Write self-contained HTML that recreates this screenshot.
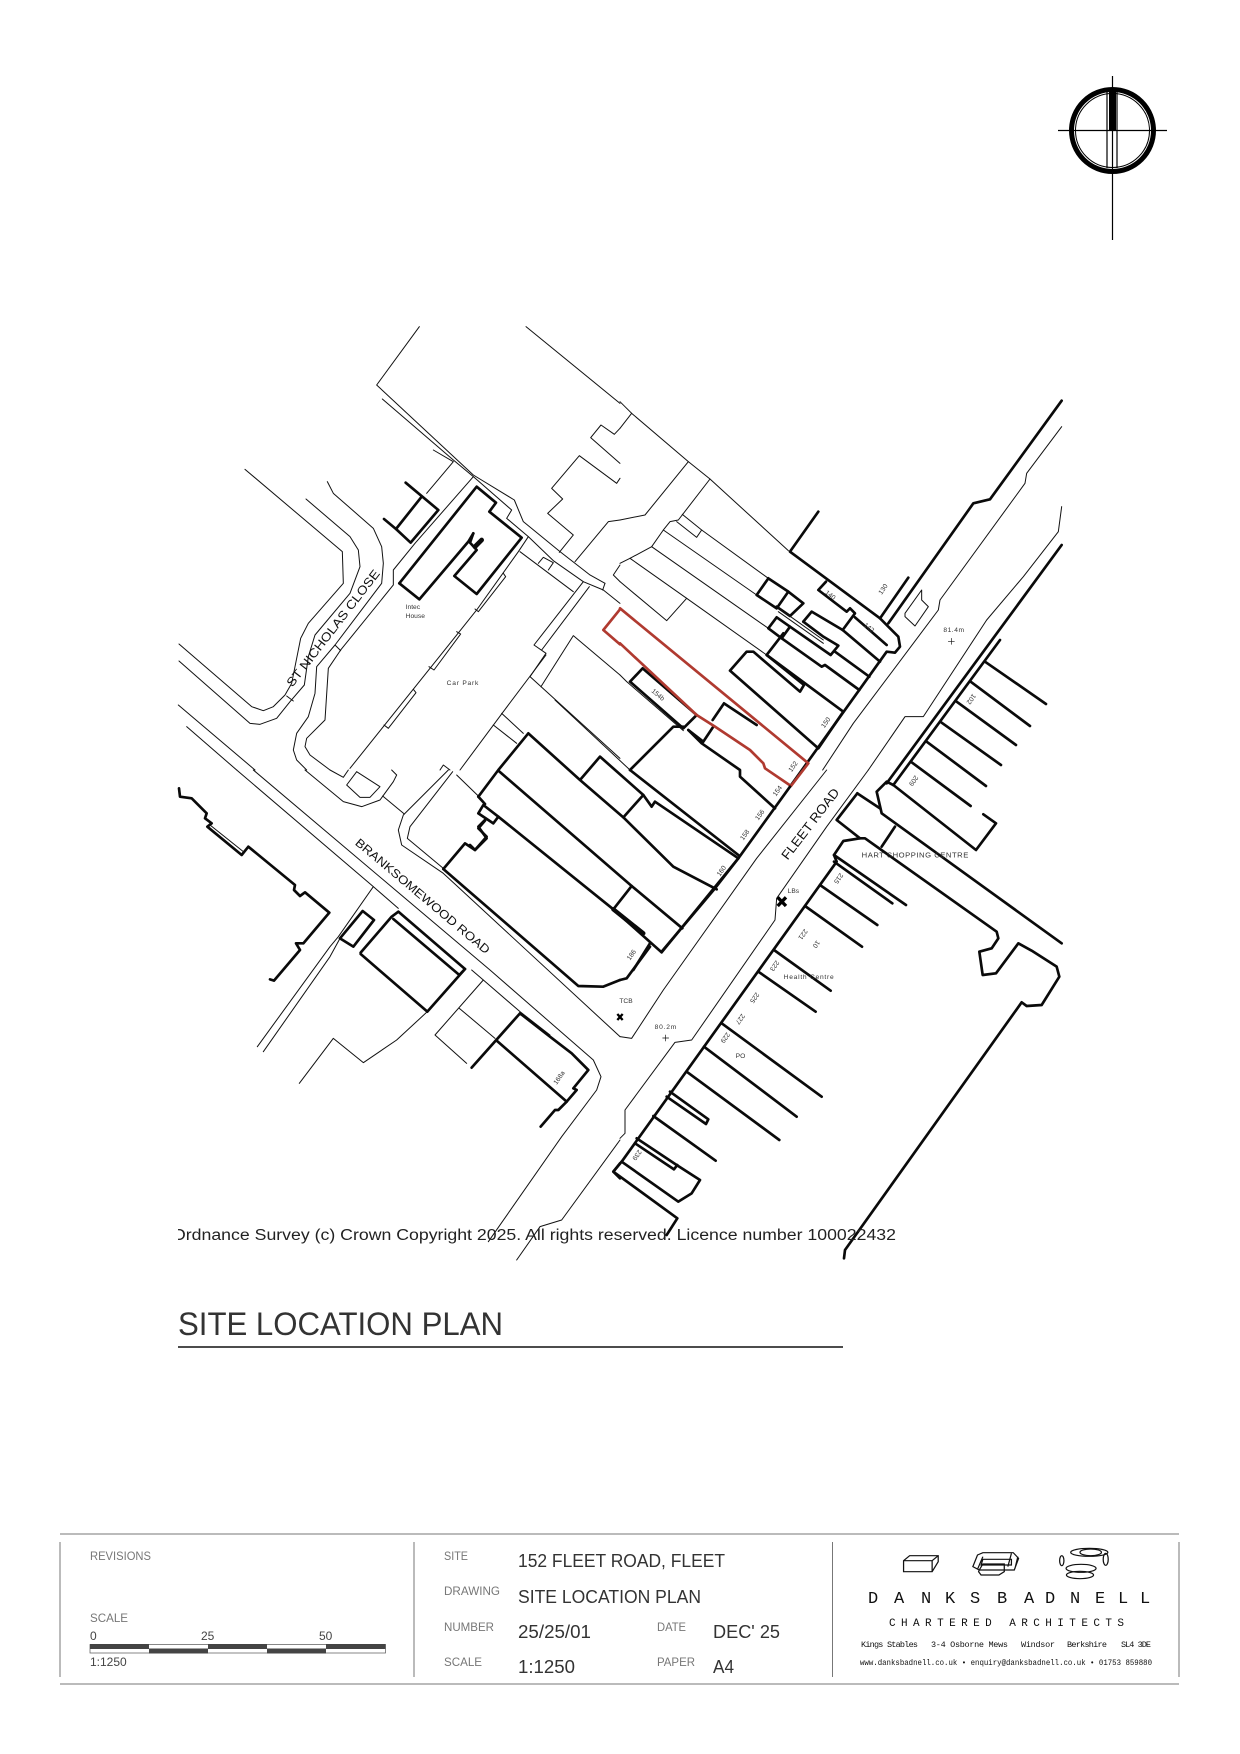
<!DOCTYPE html>
<html><head><meta charset="utf-8"><title>Site Location Plan</title>
<style>
html,body{margin:0;padding:0;background:#fff;width:1240px;height:1754px;overflow:hidden}
svg{display:block}
text{font-family:"Liberation Sans",sans-serif}
.t,.k,.r{fill:none;stroke-linejoin:round;stroke-linecap:round}
.t{stroke:#111;stroke-width:3}
.k{stroke:#0a0a0a;stroke-width:8}
.r{stroke:#b03a30;stroke-width:8}
.s{font-size:20px;fill:#333}
.l{font-size:12px;fill:#777}
.v{font-size:18px;fill:#333}
.m{font-family:"Liberation Mono",monospace}
</style></head><body>
<svg width="1240" height="1754" viewBox="0 0 1240 1754" xmlns="http://www.w3.org/2000/svg">
<rect width="1240" height="1754" fill="#fff"/>

<!-- North point -->
<g fill="none" stroke="#000">
<circle cx="1112.5" cy="130.5" r="41" stroke-width="5"/>
<circle cx="1112.5" cy="130.5" r="37" stroke-width="1"/>
<path d="M1112.5 76V240M1058 130.5H1167M1107 90V168M1117 90V168" stroke-width="1.2"/>
<rect x="1109" y="90" width="7" height="40" fill="#000" stroke="none"/>
</g>

<!-- Crop A -->
<g transform="translate(170,320) scale(.33333)">
<polyline class="t" points="748,20 620,195 910,465 1033,540 1060,605 1170,695 1260,765 1305,790"/>
<polyline class="t" points="637,237 850,420 910,470 1025,570 1010,595 1075,650 1150,722 1240,785 1300,810 1350,850"/>
<polyline class="t" points="1068,20 1350,250"/>
<polyline class="t" points="1350,325 1333,343 1293,315 1262,353 1350,430"/>
<polyline class="t" points="1350,475 1340,490 1228,407 1145,505 1178,537 1133,580 1210,645 1168,697"/>
<polyline class="t" points="1215,725 1315,605 1350,600"/>
<polyline class="t" points="1350,735 1330,765 1350,785"/>
<polyline class="t" points="1305,790 1298,810"/>
<polyline class="t" points="225,448 517,695 520,790 415,910 392,955 365,1090 345,1125 310,1160 280,1172 245,1160 27,972"/>
<polyline class="t" points="27,1023 240,1210 270,1213 320,1195 360,1145 403,1095 415,1010 435,945 540,820 570,740 565,690 540,650 408,537"/>
<polyline class="t" points="350,1128 370,1143"/>
<polyline class="t" points="472,485 490,520 610,625 635,680 640,730 635,790 495,975 440,1040 435,1120 415,1190 380,1240 370,1290 380,1320 410,1350"/>
<polyline class="t" points="495,975 512,992"/>
<polyline class="t" points="910,470 735,670 670,750 670,795 512,990 475,1045 465,1200 410,1255 405,1280 420,1305 480,1350"/>
<polyline class="t" points="790,390 850,425 770,520"/>
<polyline class="k" points="707,488 805,570 722,668 678,627 642,597"/>
<polyline class="k" points="678,627 755,530"/>
<polyline class="k" points="688,790 920,500 978,548 958,575 1055,653 920,822 853,768 920,690 900,668 910,640"/>
<polyline class="k" points="688,790 748,838 895,665 910,640"/>
<polyline class="k" points="915,680 935,660" style="stroke-width:14"/>
<polyline class="t" points="1075,650 1045,695 920,870 540,1345"/>
<polyline class="t" points="1000,760 1007,770 925,875 915,867"/>
<polyline class="t" points="860,935 872,942 792,1050 777,1040"/>
<polyline class="t" points="730,1108 738,1118 655,1225 642,1215"/>
<polyline class="t" points="1050,695 1210,815"/>
<polyline class="t" points="1105,730 1120,712 1150,728 1135,750"/>
<polyline class="t" points="1240,785 1092,975 1128,1000 1080,1070 1350,1315"/>
<polyline class="t" points="1258,800 1115,990"/>
<polyline class="t" points="1128,1005 1000,1175 870,1350"/>
<polyline class="t" points="1113,1100 1210,947 1350,1065"/>
<polyline class="t" points="995,1180 1060,1240"/>
<polyline class="t" points="970,1215 1040,1270"/>
<polyline class="t" points="810,1350 820,1335 840,1350"/>
<polyline class="t" points="25,1155 255,1350"/>
<polyline class="t" points="50,1220 200,1350"/>
<polyline class="r" points="1350,868 1300,930 1350,973"/>
<text class="s" x="707" y="867">Intec</text>
<text class="s" x="707" y="894">House</text>
<text class="s" x="830" y="1095" textLength="95">Car Park</text>
<text x="367" y="1103" transform="rotate(-52.3 367 1103)" font-size="37" fill="#111" textLength="432" lengthAdjust="spacingAndGlyphs">ST NICHOLAS CLOSE</text>
</g>

<!-- Crop B -->
<g transform="translate(620,380) scale(.33333)">
<polyline class="t" points="0,65 35,100 205,245 270,297 505,512"/>
<polyline class="t" points="35,100 0,145"/>
<polyline class="t" points="205,245 75,405 0,420"/>
<polyline class="t" points="270,297 175,420 150,425 130,450 95,500 30,535 0,550"/>
<polyline class="t" points="187,403 245,450 230,472 170,425"/>
<polyline class="t" points="245,450 445,595"/>
<polyline class="t" points="130,450 410,645"/>
<polyline class="t" points="95,500 445,745"/>
<polyline class="t" points="30,535 200,655 440,825"/>
<polyline class="t" points="0,605 140,722 200,655"/>
<polyline class="k" points="595,395 510,515 780,715 865,593"/>
<polyline class="k" points="445,595 410,645 470,685 505,635 445,595"/>
<polyline class="k" points="505,635 550,670 510,708 470,680"/>
<polyline class="k" points="618,605 595,630 680,695 690,685 705,700 668,750"/>
<polyline class="k" points="705,712 800,795"/>
<polyline class="k" points="550,725 575,695 668,750 780,845"/>
<polyline class="k" points="550,725 610,770 655,797 632,825 510,740"/>
<polyline class="k" points="645,815 748,890"/>
<polyline class="t" points="470,680 610,780"/>
<polyline class="t" points="475,695 610,790"/>
<polyline class="k" points="445,745 470,712 510,740 485,775 445,745"/>
<polyline class="k" points="485,775 605,860 615,855 718,930"/>
<polyline class="k" points="490,760 440,825 670,995"/>
<polyline class="k" points="670,995 595,1105 330,872 380,815 400,815 540,935 552,915 440,825"/>
<polyline class="k" points="780,715 835,770 840,800 825,818 800,815 510,1220"/>
<polyline class="k" points="805,730 1060,370 1110,358 1325,62"/>
<polyline class="t" points="855,700 905,630 905,660 925,680 885,738 855,710 855,700"/>
<polyline class="t" points="1325,140 1220,280 1215,310 960,660 955,690 700,1030 608,1170"/>
<polyline class="t" points="1325,380 1315,455 1210,590 1100,720 910,1010 855,1010 745,1170"/>
<polyline class="k" points="1325,495 800,1210"/>
<polyline class="k" points="820,1215 1140,780"/>
<polyline class="k" points="1095,845 1278,972"/>
<polyline class="k" points="1052,905 1230,1038"/>
<polyline class="k" points="1010,965 1188,1095"/>
<polyline class="k" points="965,1028 1143,1155"/>
<polyline class="k" points="920,1085 1098,1218"/>
<polyline class="k" points="875,1147 1052,1278"/>
<polyline class="k" points="30,905 68,865 230,1005 190,1045 30,905"/>
<polyline class="t" points="0,885 20,905 190,1052"/>
<polyline class="k" points="205,1050 250,1085 280,1040"/>
<polyline class="k" points="278,1020 312,970 410,1035"/>
<polyline class="k" points="190,1040 160,1040 30,1170"/>
<polyline class="k" points="205,1050 245,1090 360,1170 360,1190 465,1285"/>
<polyline class="r" points="0,685 565,1150 513,1218 435,1165 430,1150 390,1110 285,1040 230,1005 0,790"/>
<text class="s" x="0" y="0" transform="translate(785,645) rotate(-55)">130</text>
<text class="s" x="0" y="0" transform="translate(614,640) rotate(38)">140</text>
<text class="s" x="0" y="0" transform="translate(730,738) rotate(38)">142</text>
<text class="s" x="0" y="0" transform="translate(613,1045) rotate(-55)">150</text>
<text class="s" x="0" y="0" transform="translate(515,1177) rotate(-55)">152</text>
<text class="s" x="0" y="0" transform="translate(93,935) rotate(40)">154b</text>
<text class="s" x="0" y="0" transform="translate(1058,940) rotate(125)">102</text>
<text class="s" x="0" y="0" transform="translate(885,1185) rotate(125)">209</text>
<text class="s" x="970" y="756" textLength="62">81.4m</text>
<path d="M985 784H1003M994 775V793" class="t" style="stroke-width:2"/>
</g>

<!-- Crop C -->
<g transform="translate(170,770) scale(.33333)">
<polyline class="t" points="200,0 610,350 685,415"/>
<polyline class="t" points="905,600 940,630 1050,725 1140,795"/>
<polyline class="t" points="250,0 960,600 1270,870 1293,920 1280,960 1175,1100 955,1415"/>
<polyline class="t" points="835,0 700,135 685,180 695,225 820,310 1350,800"/>
<polyline class="t" points="848,5 720,170 712,205 820,295"/>
<polyline class="t" points="860,15 925,78"/>
<polyline class="t" points="638,78 703,132"/>
<polyline class="t" points="405,0 520,95 575,110 630,90 670,35 680,15 665,0"/>
<polyline class="t" points="560,5 530,45 570,82 600,82 630,50 560,5"/>
<polyline class="t" points="480,0 520,22 535,0"/>
<polyline class="k" points="945,150 925,170 950,205 915,240 885,220 820,297"/>
<polyline class="k" points="820,297 1225,648 1300,650 1350,630"/>
<polyline class="k" points="27,55 30,80 65,85 110,130 105,145 125,160 112,170 215,255 235,230 375,345 372,360 390,378 405,367 478,428 400,520 378,520 390,540 312,632 300,628"/>
<polyline class="t" points="120,165 220,245"/>
<polyline class="t" points="610,350 505,500 480,530 262,830"/>
<polyline class="t" points="510,505 480,560 280,845"/>
<polyline class="k" points="510,505 578,423 612,450 550,530 510,505"/>
<polyline class="k" points="572,548 665,440 685,425 885,597 868,615 670,447"/>
<polyline class="k" points="572,552 772,725 885,597"/>
<polyline class="t" points="772,725 680,810 580,878 490,805 388,940"/>
<polyline class="t" points="940,630 795,795 890,880"/>
<polyline class="t" points="868,715 975,805"/>
<polyline class="k" points="905,893 1050,730 1140,800 1205,850 1255,900 1210,955 1220,960 1190,995 980,812"/>
<polyline class="k" points="1190,995 1165,1020 1155,1020 1112,1070"/>
<polyline class="t" points="1350,1110 1175,1350 1110,1370 1040,1470"/>
<polyline class="k" points="1350,1180 1330,1205 1350,1225"/>
<text x="553" y="222" transform="rotate(40.1 553 222)" font-size="36" fill="#111" textLength="515" lengthAdjust="spacingAndGlyphs">BRANKSOMEWOOD ROAD</text>
<text class="s" x="0" y="0" transform="translate(1160,945) rotate(-55)">168a</text>
</g>

<!-- Central block (E) -->
<g transform="translate(470,700) scale(.33333)">
<polyline class="t" points="255,0 480,210"/>
<polyline class="k" points="25,290 85,210 175,100 330,240 390,170 520,285 460,352 330,240"/>
<polyline class="k" points="460,352 610,500 740,568"/>
<polyline class="k" points="85,212 485,558 637,685"/>
<polyline class="k" points="485,558 430,628 575,757 805,475"/>
<polyline class="k" points="430,628 520,700" style="stroke-width:13"/>
<polyline class="k" points="25,290 45,312"/>
<polyline class="k" points="25,340 40,315 85,350 70,370 25,340"/>
<polyline class="k" points="85,350 430,628"/>
<polyline class="k" points="45,362 25,385 50,410 15,450 0,435"/>
<polyline class="k" points="520,285 545,320 555,305 805,475"/>
<polyline class="k" points="480,210 805,465" />
<polyline class="k" points="540,730 490,810"/>
</g>

<!-- Crop D -->
<g transform="translate(620,770) scale(.33333)">
<polyline class="k" points="510,50 355,265 285,355 125,545"/>
<polyline class="k" points="90,530 20,625 0,630"/>
<polyline class="t" points="620,0 410,265 130,660 35,805 0,800"/>
<polyline class="t" points="745,0 620,170 470,385 465,450 215,810 165,817 15,1020 15,1090 0,1105"/>
<polyline class="k" points="820,45 800,35 770,65 785,130 1325,520"/>
<polyline class="k" points="820,45 1068,240 1128,160 1090,133"/>
<polyline class="k" points="712,70 650,150 720,205 670,213 642,255 650,275 5,1175"/>
<polyline class="k" points="712,70 780,115"/>
<polyline class="k" points="825,170 785,230"/>
<polyline class="k" points="720,205 735,205 1130,485 1135,505 1115,535 1078,545 1088,615 1128,610 1195,520 1235,542 1310,590 1318,620 1265,705 1220,708 1205,697 675,1440 672,1465"/>
<polyline class="k" points="642,255 858,405"/>
<polyline class="k" points="642,275 817,400"/>
<polyline class="k" points="600,345 772,465"/>
<polyline class="k" points="555,408 726,530"/>
<polyline class="k" points="462,540 632,662"/>
<polyline class="k" points="415,605 587,725"/>
<polyline class="k" points="305,760 605,980"/>
<polyline class="k" points="252,830 530,1040"/>
<polyline class="k" points="200,905 478,1110"/>
<polyline class="k" points="150,965 265,1048 258,1062 140,980"/>
<polyline class="k" points="100,1038 287,1172"/>
<polyline class="k" points="50,1105 170,1185 240,1230 215,1270 175,1295 5,1175"/>
<polyline class="k" points="45,1120 162,1198 172,1185"/>
<polyline class="k" points="5,1175 -20,1205 172,1345 140,1395"/>
<path d="M473 382L498 408M498 382L473 408" stroke="#000" stroke-width="10" fill="none"/>
<path d="M-8 732L8 750M8 732L-8 750" stroke="#000" stroke-width="7" fill="none"/>
<text x="503" y="272" transform="rotate(-52.5 503 272)" font-size="39" fill="#111" textLength="258" lengthAdjust="spacingAndGlyphs">FLEET ROAD</text>
<text class="s" x="725" y="263" textLength="320" style="font-size:23px">HART SHOPPING CENTRE</text>
<text class="s" x="491" y="627" textLength="150">Health Centre</text>
<text class="s" x="347" y="864">PO</text>
<text class="s" x="-2" y="699">TCB</text>
<text class="s" x="104" y="777" textLength="65">80.2m</text>
<path d="M128 804H146M137 795V813" class="t" style="stroke-width:2"/>
<text class="s" x="503" y="369">LBs</text>
<g class="s">
<text transform="translate(468,80) rotate(-55)">154</text>
<text transform="translate(415,152) rotate(-55)">156</text>
<text transform="translate(370,212) rotate(-55)">158</text>
<text transform="translate(300,320) rotate(-55)">160</text>
<text transform="translate(30,572) rotate(-55)">186</text>
<text transform="translate(660,308) rotate(125)">215</text>
<text transform="translate(553,476) rotate(125)">221</text>
<text transform="translate(590,510) rotate(125)">10</text>
<text transform="translate(468,570) rotate(125)">223</text>
<text transform="translate(408,666) rotate(125)">225</text>
<text transform="translate(365,730) rotate(125)">227</text>
<text transform="translate(320,786) rotate(125)">229</text>
<text transform="translate(55,1138) rotate(125)">239</text>
</g>
</g>

<!-- Copyright -->
<svg x="178" y="1220" width="730" height="30" viewBox="178 1220 730 30">
<text x="172" y="1240" font-size="15.5" fill="#222" textLength="724" lengthAdjust="spacingAndGlyphs">Ordnance Survey (c) Crown Copyright 2025. All rights reserved. Licence number 100022432</text>
</svg>

<!-- Title -->
<text x="178" y="1335" font-size="32.6" fill="#333" textLength="325" lengthAdjust="spacingAndGlyphs">SITE LOCATION PLAN</text>
<path d="M178 1347H843" stroke="#111" stroke-width="1.6"/>

<!-- Title block -->
<g stroke="#777" stroke-width="1" fill="none">
<path d="M60 1534H1179M60 1684H1179"/>
<path d="M60 1542V1677M414 1542V1677M832.5 1542V1677M1179 1542V1677"/>
</g>
<text class="l" x="90" y="1560" textLength="61" lengthAdjust="spacingAndGlyphs">REVISIONS</text>
<text class="l" x="90" y="1622" textLength="38" lengthAdjust="spacingAndGlyphs">SCALE</text>
<text x="90" y="1640" font-size="12" fill="#444">0</text>
<text x="201" y="1640" font-size="12" fill="#444">25</text>
<text x="319" y="1640" font-size="12" fill="#444">50</text>
<rect x="90" y="1644.5" width="295.5" height="8.5" fill="#fff" stroke="#555" stroke-width=".7"/>
<g fill="#444">
<rect x="90" y="1644" width="59" height="5"/>
<rect x="149" y="1648.5" width="59" height="5"/>
<rect x="208" y="1644" width="59" height="5"/>
<rect x="267" y="1648.5" width="59" height="5"/>
<rect x="326" y="1644" width="59.5" height="5"/>
</g>
<text x="90" y="1666" font-size="12" fill="#444">1:1250</text>

<text class="l" x="444" y="1560" textLength="24" lengthAdjust="spacingAndGlyphs">SITE</text>
<text class="l" x="444" y="1595" textLength="56" lengthAdjust="spacingAndGlyphs">DRAWING</text>
<text class="l" x="444" y="1631" textLength="50" lengthAdjust="spacingAndGlyphs">NUMBER</text>
<text class="l" x="444" y="1666" textLength="38" lengthAdjust="spacingAndGlyphs">SCALE</text>
<text class="v" x="518" y="1567" textLength="207" lengthAdjust="spacingAndGlyphs">152 FLEET ROAD, FLEET</text>
<text class="v" x="518" y="1603" textLength="183" lengthAdjust="spacingAndGlyphs">SITE LOCATION PLAN</text>
<text class="v" x="518" y="1638" textLength="73" lengthAdjust="spacingAndGlyphs">25/25/01</text>
<text class="v" x="518" y="1673" textLength="57" lengthAdjust="spacingAndGlyphs">1:1250</text>
<text class="l" x="657" y="1631" textLength="29" lengthAdjust="spacingAndGlyphs">DATE</text>
<text class="l" x="657" y="1666" textLength="38" lengthAdjust="spacingAndGlyphs">PAPER</text>
<text class="v" x="713" y="1638" textLength="67" lengthAdjust="spacingAndGlyphs">DEC' 25</text>
<text class="v" x="713" y="1673" textLength="21" lengthAdjust="spacingAndGlyphs">A4</text>

<!-- Logo -->
<g transform="translate(640,1520) scale(.35714,.33333)" fill="none" stroke="#111" stroke-width="3.5">
<path d="M738 122L755 107H835V125L818 155H738ZM738 122H818L835 107M818 122V155"/>
<path d="M945 105L960 98H1045L1060 115L1048 150H950L932 140L945 105ZM960 118H1040V135H955ZM950 150L960 132H1020V155L1005 165H955L948 155ZM1040 100L1030 140M960 110L945 148M1058 110L1050 145"/>
<ellipse cx="1258" cy="97" rx="52" ry="12"/>
<ellipse cx="1262" cy="97" rx="30" ry="10"/>
<ellipse cx="1235" cy="145" rx="42" ry="12"/>
<ellipse cx="1232" cy="165" rx="38" ry="11"/>
<ellipse cx="1181" cy="122" rx="6" ry="15"/>
<ellipse cx="1304" cy="118" rx="7" ry="18"/>
</g>
<g fill="#111">
<text class="m" y="1603" font-size="17" x="868 894 921 945 970 985 997 1024 1045 1070 1095 1118 1140" style="font-family:'Liberation Mono',monospace">DANKS BADNELL</text>
<text class="m" x="889" y="1626" font-size="11" textLength="235" lengthAdjust="spacing" style="font-family:'Liberation Mono',monospace">CHARTERED ARCHITECTS</text>
<g font-size="8.5">
<text x="861" y="1647" style="font-family:'Liberation Mono',monospace" textLength="57">Kings Stables</text>
<text x="931" y="1647" style="font-family:'Liberation Mono',monospace" textLength="77">3-4 Osborne Mews</text>
<text x="1021" y="1647" style="font-family:'Liberation Mono',monospace" textLength="34">Windsor</text>
<text x="1067" y="1647" style="font-family:'Liberation Mono',monospace" textLength="40">Berkshire</text>
<text x="1121" y="1647" style="font-family:'Liberation Mono',monospace" textLength="30">SL4 3DE</text>
<text x="860" y="1665" style="font-family:'Liberation Mono',monospace" font-size="8" textLength="292" lengthAdjust="spacingAndGlyphs">www.danksbadnell.co.uk • enquiry@danksbadnell.co.uk • 01753 859880</text>
</g>
</g>
</svg>
</body></html>
